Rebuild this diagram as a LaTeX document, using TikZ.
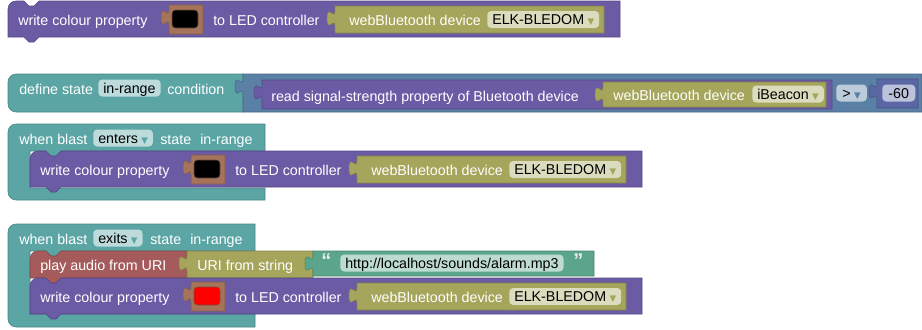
\documentclass[tikz,border=0pt]{standalone}
\usepackage{fontspec}
\setmainfont{Liberation Sans}
\newfontfamily\symfont{DejaVu Sans}

\definecolor{ledpurple}{HTML}{6B5BA5}
\definecolor{devolive}{HTML}{A5A55B}
\definecolor{swatchbrown}{HTML}{A5745B}
\definecolor{stateteal}{HTML}{5BA5A5}
\definecolor{logicblue}{HTML}{5B80A5}
\definecolor{mathblue}{HTML}{5B67A5}
\definecolor{audiored}{HTML}{A55B5B}
\definecolor{textgreen}{HTML}{5BA58C}

\newcommand{\blockfont}{\fontsize{10.7}{12.8}\selectfont}
% little dropdown triangle after a field text
\newcommand{\dd}[1]{\hspace{2.5pt}{\symfont\fontsize{6.5}{7}\selectfont\textcolor{#1}{▼}}}

% statement block: notch on top, tab below (colour, x, y, width, height)
\newcommand{\stmtblock}[5]{%
  \filldraw[blk=#1] (#2,#3+8) .. controls (#2,#3+3.5) and (#2+3.5,#3) .. (#2+8,#3)
    -- (#2+16,#3) -- (#2+21,#3+5) -- (#2+26,#3+5) -- (#2+31,#3)
    -- (#2+#4,#3) -- (#2+#4,#3+#5)
    -- (#2+31,#3+#5) -- (#2+26,#3+#5+5) -- (#2+21,#3+#5+5) -- (#2+16,#3+#5)
    -- (#2,#3+#5) -- cycle;}
% value block with the puzzle tab on its left
\newcommand{\valblock}[5]{%
  \filldraw[blk=#1] (#2,#3) -- (#2+#4,#3) -- (#2+#4,#3+#5) -- (#2,#3+#5) -- (#2,#3+20)
    .. controls (#2,#3+10) and (#2-8,#3+28) .. (#2-8,#3+12.5)
    .. controls (#2-8,#3-3) and (#2,#3+15) .. (#2,#3+5) -- cycle;}
% top level block, rounded on the left
\newcommand{\defblock}[5]{%
  \filldraw[blk=#1] (#2,#3+8) .. controls (#2,#3+3.5) and (#2+3.5,#3) .. (#2+8,#3)
    -- (#2+#4,#3) -- (#2+#4,#3+#5) -- (#2+8,#3+#5)
    .. controls (#2+3.5,#3+#5) and (#2,#3+#5-3.5) .. (#2,#3+#5-8) -- cycle;}
% event block with a statement mouth (colour, x, y, width, header bottom, inner bottom, bottom)
\newcommand{\eventblock}[7]{%
  \filldraw[blk=#1] (#2,#3+8) .. controls (#2,#3+3.5) and (#2+3.5,#3) .. (#2+8,#3)
    -- (#2+#4,#3) -- (#2+#4,#5)
    -- (#2+53,#5) -- (#2+48,#5+5) -- (#2+43,#5+5) -- (#2+38,#5)
    -- (#2+22,#5) -- (#2+22,#6) -- (#2+#4,#6) -- (#2+#4,#7) -- (#2+8,#7)
    .. controls (#2+3.5,#7) and (#2,#7-3.5) .. (#2,#7-8) -- cycle;}
% the LED write block, swatch colour as argument
\newcommand{\writecolour}[1]{%
  \stmtblock{ledpurple}{8}{1}{612}{36}
  \node[lbl] (write) at (18,19) {write colour property};
  \valblock{swatchbrown}{169}{5}{34}{29}
  \filldraw[fill=#1, draw=swatchbrown!70!black, rounded corners=2.5pt] (172,10) rectangle (198,28);
  \node[lbl] (to) at (213,19) {to LED controller};
  \valblock{devolive}{335}{6}{269}{27}
  \node[lbl] (dev) at (349,19) {webBluetooth device};
  \node[fld=devolive] (name) at (487,19.5) {ELK-BLEDOM\dd{devolive}};}

\begin{document}
\begin{tikzpicture}[
        x=0.75pt, y=-0.75pt,
        blk/.style={fill=#1, draw=#1!80!black, line width=0.4pt},
        lbl/.style={anchor=west, inner sep=0pt, text=white, font=\blockfont,
            text height=9.3pt, text depth=0.3pt},
        fld/.style={anchor=west, fill=#1!40!white, rounded corners=3pt,
            inner xsep=3.75pt, inner ysep=0pt, minimum height=12.75pt,
            text=black, font=\blockfont, text height=8.6pt, text depth=0.4pt},
        quote/.style={lbl, text=white!92!black, font=\bfseries\fontsize{15}{15}\selectfont}
    ]
    \useasboundingbox (0,0) rectangle (922,329);

    % 1. Lone write block
    \begin{scope}[name prefix=top-]
        \writecolour{black}
    \end{scope}

    % 2. State condition
    \defblock{stateteal}{8}{74}{235}{38}
    \node[lbl] (def) at (19,88) {define state};
    \node[fld=stateteal] (defname) at (98,88) {in-range};
    \node[lbl] (cond) at (167,88) {condition};
    \valblock{logicblue}{243}{74}{679}{38}
    \valblock{ledpurple}{262}{80}{570}{29}
    \node[lbl] (rssi) at (271,95) {read signal-strength property of Bluetooth device};
    \valblock{devolive}{603}{82}{223}{25}
    \node[lbl] (beacondev) at (613,94) {webBluetooth device};
    \node[fld=devolive] (beacon) at (752,94) {iBeacon\dd{devolive}};
    \node[fld=logicblue, minimum width=23pt] (op) at (836,93) {>\dd{logicblue}};
    \valblock{mathblue}{877}{79}{41}{29}
    \node[fld=mathblue, minimum width=24.75pt] (limit) at (882,93) {-60};

    % 3. Entering the state
    \eventblock{stateteal}{8}{124}{257}{151}{188}{200}
    \node[lbl] (when1) at (19,138) {when blast};
    \node[fld=stateteal] (enters) at (93,138) {enters\dd{stateteal}};
    \node[lbl] (st1) at (160,138) {state};
    \node[lbl] (range1) at (200,138) {in-range};
    \begin{scope}[shift={(22,150)}, name prefix=enter-]
        \writecolour{black}
    \end{scope}

    % 4. Leaving the state
    \eventblock{stateteal}{8}{224}{247}{251}{314}{327}
    \node[lbl] (when2) at (19,238) {when blast};
    \node[fld=stateteal] (exits) at (93,238) {exits\dd{stateteal}};
    \node[lbl] (st2) at (150,238) {state};
    \node[lbl] (range2) at (190,238) {in-range};
    \stmtblock{audiored}{30}{251}{157}{27}
    \node[lbl] (play) at (40,264) {play audio from URI};
    \valblock{devolive}{187}{251}{126}{27}
    \node[lbl] (uri) at (197,264) {URI from string};
    \valblock{textgreen}{313}{251}{281}{25}
    \node[quote] (q1) at (321,261) {“};
    \node[fld=textgreen] (url) at (340,263) {http://localhost/sounds/alarm.mp3};
    \node[quote] (q2) at (573,261) {”};
    \begin{scope}[shift={(22,277)}, name prefix=exit-]
        \writecolour{red}
    \end{scope}

\end{tikzpicture}
\end{document}
